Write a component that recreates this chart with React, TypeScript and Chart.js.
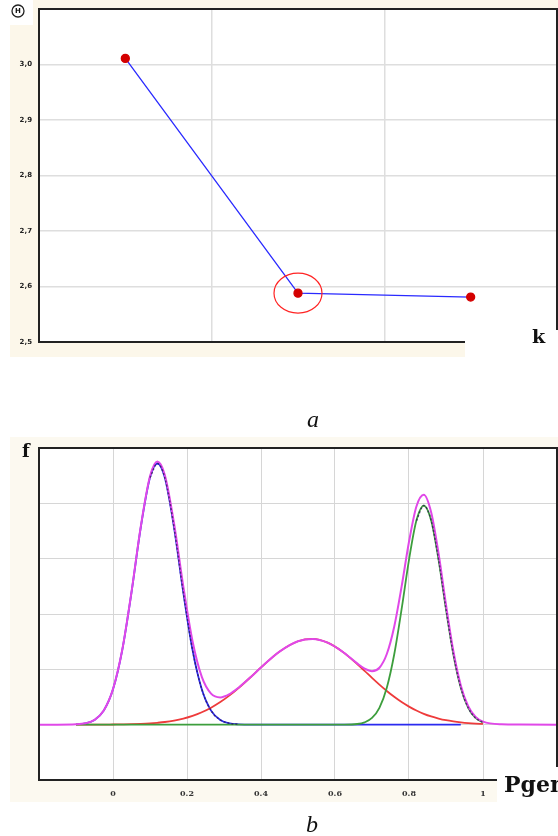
import React, { useEffect, useRef } from "react";
import { Chart, registerables } from "chart.js";

Chart.register(...registerables);

// ---------- chart (a) ----------
const kValues = [2, 3, 4];
const hValues = [3.011, 2.588, 2.581];

// ---------- chart (b) ----------
const pgen = [
  -0.2, -0.15, -0.1, -0.075, -0.05, -0.025, 0, 0.025, 0.05, 0.075, 0.1, 0.12, 0.14, 0.165, 0.19, 0.215, 0.24,
  0.265, 0.29, 0.315, 0.34, 0.375, 0.4, 0.45, 0.5, 0.54, 0.58, 0.62, 0.66, 0.68, 0.7, 0.72, 0.74, 0.76, 0.78,
  0.8, 0.82, 0.84, 0.86, 0.88, 0.9, 0.92, 0.94, 0.96, 0.98, 1.0, 1.05, 1.1, 1.2,
];
const blueComponent = [
  null, null, 0.006, 0.024, 0.085, 0.254, 0.639, 1.348, 2.39, 3.563, 4.465, 4.72, 4.465, 3.563, 2.39, 1.348, 0.639,
  0.254, 0.085, 0.024, 0.006, 0, 0, 0, 0, 0, 0, 0, 0, 0, 0, 0, 0, 0, 0,
  0, 0, 0, 0, 0, 0, 0, 0, null, null, null, null, null, null,
];
const redComponent = [
  null, null, 0, 0, 0.001, 0.001, 0.003, 0.005, 0.008, 0.014, 0.023, 0.034, 0.048, 0.074, 0.11, 0.159, 0.224,
  0.307, 0.408, 0.529, 0.666, 0.877, 1.034, 1.32, 1.508, 1.55, 1.482, 1.32, 1.095, 0.972, 0.846, 0.724, 0.609, 0.503, 0.408,
  0.326, 0.255, 0.196, 0.148, 0.11, 0.08, 0.058, 0.041, 0.028, 0.019, 0.013, null, null, null,
];
const greenComponent = [
  null, null, 0, 0, 0, 0, 0, 0, 0, 0, 0, 0, 0, 0, 0, 0, 0,
  0, 0, 0, 0, 0, 0, 0, 0, 0, 0, 0.001, 0.012, 0.042, 0.121, 0.305, 0.668, 1.268, 2.087,
  2.979, 3.688, 3.96, 3.688, 2.979, 2.087, 1.268, 0.668, 0.305, 0.121, 0.042, null, null, null,
];
const mixtureDensity = [
  0, 0, 0.006, 0.024, 0.086, 0.255, 0.642, 1.353, 2.398, 3.577, 4.488, 4.754, 4.513, 3.637, 2.5, 1.507, 0.863,
  0.561, 0.493, 0.553, 0.672, 0.877, 1.034, 1.32, 1.508, 1.55, 1.482, 1.321, 1.107, 1.014, 0.967, 1.029, 1.277, 1.771, 2.495,
  3.305, 3.943, 4.156, 3.836, 3.089, 2.167, 1.326, 0.709, 0.333, 0.14, 0.055, 0.006, 0.001, 0,
];
const darkOverlay = [
  null, null, null, null, null, null, null, null, null, null, 4.465, 4.72, 4.465, 3.563, 2.39, 1.348, 0.639,
  0.254, 0.085, 0.024, 0.006, null, null, null, null, null, null, null, null, null, null, null, null, null, null,
  null, 3.688, 3.96, 3.688, 2.979, 2.087, 1.268, 0.668, 0.305, 0.121, 0.042, null, null, null,
];

const CREAM = "#fcf7ea";
const CREAM2 = "#fcf9f0";

const pts = (ys: (number | null)[]) => pgen.map((x, i) => ({ x, y: ys[i] }));

const fitX = (h: number) => (s: any) => {
  s.height = h;
  s.paddingLeft = 0;
  s.paddingRight = 0;
};
const fitY = (w: number) => (s: any) => {
  s.width = w;
  s.paddingTop = 0;
  s.paddingBottom = 0;
};

const topDecor = {
  id: "topDecor",
  beforeDraw(chart: any) {
    const { ctx, chartArea: ca } = chart;
    ctx.save();
    ctx.fillStyle = CREAM;
    ctx.fillRect(10, 0, 548, 357);
    ctx.fillStyle = "#ffffff";
    ctx.fillRect(0, 0, 33, 25);
    ctx.fillRect(ca.left, ca.top, ca.right - ca.left, ca.bottom - ca.top);
    ctx.restore();
  },
  afterDraw(chart: any) {
    const { ctx, chartArea: ca, scales } = chart;
    ctx.save();
    ctx.strokeStyle = "#222";
    ctx.lineWidth = 2;
    ctx.strokeRect(ca.left, ca.top, ca.right - ca.left, ca.bottom - ca.top);
    const cx = scales.x.getPixelForValue(kValues[1]);
    const cy = scales.y.getPixelForValue(hValues[1]);
    ctx.beginPath();
    ctx.ellipse(cx, cy, 24, 20, 0, 0, Math.PI * 2);
    ctx.strokeStyle = "#ff2424";
    ctx.lineWidth = 1.2;
    ctx.stroke();
    ctx.fillStyle = "#ffffff";
    ctx.fillRect(465, 330, 93, 30);
    ctx.fillStyle = "#111";
    ctx.font = "bold 19px 'DejaVu Serif'";
    ctx.textAlign = "left";
    ctx.textBaseline = "alphabetic";
    ctx.fillText("k", 532, 343);
    ctx.beginPath();
    ctx.arc(18, 11, 6, 0, Math.PI * 2);
    ctx.strokeStyle = "#222";
    ctx.lineWidth = 1.3;
    ctx.stroke();
    ctx.font = "bold 7px 'DejaVu Sans'";
    ctx.textAlign = "center";
    ctx.textBaseline = "middle";
    ctx.fillText("H", 18, 11.5);
    ctx.font = "italic 24px 'Liberation Serif'";
    ctx.textBaseline = "alphabetic";
    ctx.fillText("a", 313, 427);
    ctx.restore();
  },
};

const bottomDecor = {
  id: "bottomDecor",
  beforeDraw(chart: any) {
    const { ctx, chartArea: ca } = chart;
    ctx.save();
    ctx.fillStyle = CREAM2;
    ctx.fillRect(10, 7, 548, 365);
    ctx.fillStyle = "#ffffff";
    ctx.fillRect(ca.left, ca.top, ca.right - ca.left, ca.bottom - ca.top);
    ctx.restore();
  },
  afterDraw(chart: any) {
    const { ctx, chartArea: ca } = chart;
    ctx.save();
    ctx.strokeStyle = "#222";
    ctx.lineWidth = 2;
    ctx.strokeRect(ca.left, ca.top, ca.right - ca.left, ca.bottom - ca.top);
    ctx.fillStyle = "#ffffff";
    ctx.fillRect(497, 337, 61, 40);
    ctx.fillStyle = "#111";
    ctx.textAlign = "left";
    ctx.textBaseline = "alphabetic";
    ctx.font = "bold 18px 'DejaVu Serif'";
    ctx.fillText("f", 22, 27);
    ctx.font = "bold 22px 'DejaVu Serif'";
    ctx.fillText("Pgen", 504, 362);
    ctx.font = "italic 24px 'Liberation Serif'";
    ctx.textAlign = "center";
    ctx.fillText("b", 312, 402);
    ctx.restore();
  },
};

export default function App() {
  const topRef = useRef<HTMLCanvasElement | null>(null);
  const botRef = useRef<HTMLCanvasElement | null>(null);

  useEffect(() => {
    const top = new Chart(topRef.current as HTMLCanvasElement, {
      type: "line",
      data: {
        datasets: [
          {
            data: kValues.map((k, i) => ({ x: k, y: hValues[i] })),
            borderColor: "#2a2aff",
            borderWidth: 1.3,
            pointBackgroundColor: "#d40000",
            pointBorderColor: "#d40000",
            pointRadius: 4,
            pointHoverRadius: 4,
            tension: 0,
          },
        ],
      },
      options: {
        responsive: false,
        animation: false,
        events: [],
        layout: { autoPadding: false, padding: { top: 9, right: 1, left: 0, bottom: 0 } },
        plugins: { legend: { display: false }, tooltip: { enabled: false } },
        scales: {
          x: {
            type: "linear",
            min: 1.5,
            max: 4.5,
            afterFit: fitX(88),
            grid: { color: "#dedede", lineWidth: 1.5, drawTicks: false },
            border: { display: false },
            ticks: {
              stepSize: 1,
              padding: 7,
              autoSkip: false,
              maxRotation: 0,
              color: "#222",
              font: { family: "'DejaVu Sans'", size: 7, weight: "bold" },
              callback: (v: any) => {
                const n = Number(v);
                return Math.abs(n - Math.round(n)) < 1e-6 && n < 3.5 ? String(Math.round(n)) : "";
              },
            },
          },
          y: {
            type: "linear",
            min: 2.5,
            max: 3.1,
            afterFit: fitY(39),
            grid: { color: "#dedede", lineWidth: 1.5, drawTicks: false },
            border: { display: false },
            ticks: {
              stepSize: 0.1,
              padding: 7,
              autoSkip: false,
              color: "#222",
              font: { family: "'DejaVu Sans'", size: 7, weight: "bold" },
              callback: (v: any) => {
                const n = Number(v);
                return n > 3.05 ? "" : n.toFixed(1).replace(".", ",");
              },
            },
          },
        },
      },
      plugins: [topDecor],
    } as any);

    const line = (data: (number | null)[], color: string, width: number, extra: any = {}) => ({
      data: pts(data),
      borderColor: color,
      borderWidth: width,
      pointRadius: 0,
      pointHoverRadius: 0,
      cubicInterpolationMode: "monotone",
      spanGaps: false,
      ...extra,
    });

    const bottom = new Chart(botRef.current as HTMLCanvasElement, {
      type: "line",
      data: {
        datasets: [
          line(darkOverlay, "rgba(45,25,85,0.75)", 1.5, { borderDash: [2, 2] }),
          line(mixtureDensity, "#e048e8", 2),
          line(greenComponent, "#3d9e3d", 1.8),
          line(redComponent, "#ee3b3b", 1.8),
          line(blueComponent, "#2b2bef", 1.8),
        ],
      },
      options: {
        responsive: false,
        animation: false,
        events: [],
        layout: { autoPadding: false, padding: { top: 18, right: 1, left: 0, bottom: 0 } },
        plugins: { legend: { display: false }, tooltip: { enabled: false } },
        scales: {
          x: {
            type: "linear",
            min: -0.2,
            max: 1.2,
            afterFit: fitX(56),
            grid: { color: "#d6d6d6", lineWidth: 1, drawTicks: false },
            border: { display: false },
            ticks: {
              stepSize: 0.2,
              padding: 9,
              autoSkip: false,
              maxRotation: 0,
              color: "#333",
              font: { family: "'DejaVu Serif'", size: 8, weight: "bold" },
              callback: (v: any) => {
                const n = Number(v);
                return n < -0.1 || n > 1.1 ? "" : String(Number(n.toFixed(1)));
              },
            },
          },
          y: {
            type: "linear",
            min: -1,
            max: 5,
            afterFit: fitY(39),
            grid: { color: "#d6d6d6", lineWidth: 1, drawTicks: false },
            border: { display: false },
            ticks: { stepSize: 1, display: false },
          },
        },
      },
      plugins: [bottomDecor],
    } as any);

    return () => {
      top.destroy();
      bottom.destroy();
    };
  }, []);

  return (
    <div style={{ position: "absolute", left: 0, top: 0, width: 558, height: 836, background: "#fff" }}>
      <canvas
        ref={topRef}
        width={558}
        height={430}
        style={{ position: "absolute", left: 0, top: 0, width: 558, height: 430, display: "block" }}
      />
      <canvas
        ref={botRef}
        width={558}
        height={406}
        style={{ position: "absolute", left: 0, top: 430, width: 558, height: 406, display: "block" }}
      />
    </div>
  );
}
